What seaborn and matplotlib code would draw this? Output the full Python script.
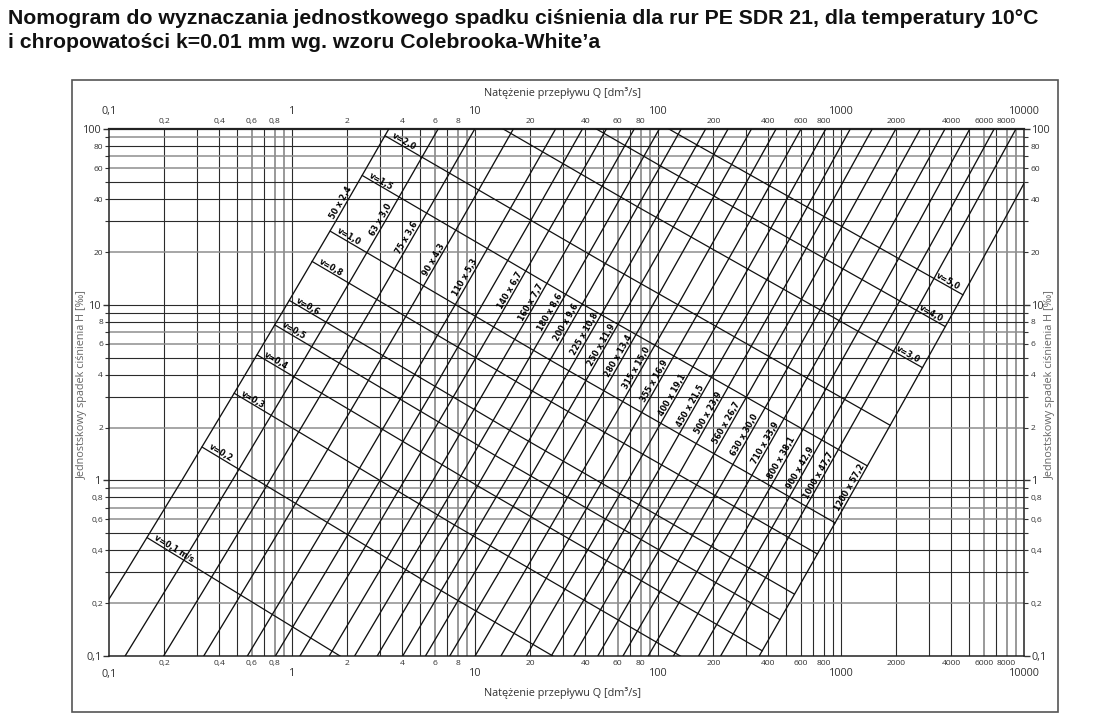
import numpy as np
import pandas as pd
import seaborn as sns
import matplotlib.pyplot as plt
from matplotlib.patches import Rectangle
from matplotlib.ticker import FixedLocator, FuncFormatter

h_levels = [0.1, 0.3, 1, 3, 10, 30, 100]

pipe_dn = [50, 63, 75, 90, 110, 125, 140, 160, 180, 200, 225, 250, 280, 315, 355,
           400, 450, 500, 560, 630, 710, 800, 900, 1000, 1200]
pipe_text = ["50 x 2,4", "63 x 3,0", "75 x 3,6", "90 x 4,3", "110 x 5,3", "", "140 x 6,7",
             "160 x 7,7", "180 x 8,6", "200 x 9,6", "225 x 10,8", "250 x 11,9", "280 x 13,4",
             "315 x 15,0", "355 x 16,9", "400 x 19,1", "450 x 21,5", "500 x 23,9", "560 x 26,7",
             "630 x 30,0", "710 x 33,9", "800 x 38,1", "900 x 42,9", "1000 x 47,7", "1200 x 57,2"]

# Q [dm3/s] where each pipe curve crosses the H level
q_at_h0_1 = [0.0638, 0.122, 0.198, 0.328, 0.568, 0.808, 1.10, 1.59, 2.19, 2.91, 4.01, 5.34, 7.25,
             9.97, 13.8, 19.0, 26.0, 34.5, 46.7, 64.1, 88.1, 121, 166, 219, 356]
q_at_h0_3 = [0.123, 0.233, 0.376, 0.621, 1.07, 1.52, 2.07, 2.97, 4.09, 5.43, 7.46, 9.94, 13.5,
             18.5, 25.5, 35.0, 48.0, 63.5, 86.0, 118, 162, 222, 304, 401, 650]
q_at_h1 = [0.249, 0.470, 0.754, 1.24, 2.13, 3.02, 4.10, 5.87, 8.07, 10.7, 14.7, 19.5, 26.3,
           36.1, 49.7, 68.2, 93.3, 124, 167, 228, 313, 430, 586, 774, 1252]
q_at_h3 = [0.469, 0.882, 1.41, 2.31, 3.96, 5.60, 7.59, 10.8, 14.9, 19.7, 27.0, 35.8, 48.4,
           66.2, 91.0, 125, 170, 225, 304, 415, 569, 780, 1063, 1402, 2265]
q_at_h10 = [0.931, 1.74, 2.78, 4.54, 7.76, 10.9, 14.8, 21.1, 28.9, 38.2, 52.3, 69.3, 93.4,
            128, 175, 240, 328, 432, 583, 795, 1088, 1489, 2028, 2673, 4310]
q_at_h30 = [1.73, 3.22, 5.12, 8.35, 14.2, 20.0, 27.0, 38.5, 52.7, 69.6, 95.0, 126, 169,
            231, 317, 433, 591, 779, 1049, 1429, 1953, 2671, 3633, 4783, 7700]
q_at_h100 = [3.36, 6.25, 9.91, 16.1, 27.4, 38.4, 51.9, 73.7, 101, 133, 181, 240, 322,
             439, 601, 821, 1117, 1472, 1981, 2695, 3678, 5024, 6827, 8980, 14430]

# where along each pipe curve its name is written (H, ‰)
pipe_label_h = [37.1, 29.7, 23.4, 17.6, 13.9, None, 11.8, 10.0, 8.76, 7.68, 6.65, 5.76, 4.99,
                4.26, 3.59, 2.99, 2.59, 2.36, 2.07, 1.77, 1.59, 1.31, 1.15, 1.03, 0.883]

# velocity lines: points on the 50, 200 and 1200 pipes
v_text = ["v=0,1 m/s", "v=0,2", "v=0,3", "v=0,4", "v=0,5", "v=0,6", "v=0,8", "v=1,0",
          "v=1,5", "v=2,0", "v=3,0", "v=4,0", "v=5,0"]
q_v_dn50 = [0.161, 0.321, 0.481, 0.642, 0.802, 0.963, 1.28, 1.61, 2.41, 3.21, 4.81, 6.42, 8.02]
h_v_dn50 = [0.472, 1.55, 3.14, 5.19, 7.69, 10.6, 17.7, 26.3, 54.6, 91.9, 193, 327, 495]
q_v_dn200 = [2.57, 5.14, 7.70, 10.3, 12.8, 15.4, 20.5, 25.7, 38.5, 51.4, 77.0, 103, 128]
h_v_dn200 = [0.0803, 0.272, 0.557, 0.931, 1.39, 1.93, 3.23, 4.84, 10.1, 17.2, 36.2, 61.8, 93.8]
q_v_dn1200 = [92.6, 185, 278, 370, 463, 555, 741, 926, 1388, 1851, 2777, 3702, 4628]
h_v_dn1200 = [0.0088, 0.0306, 0.0637, 0.107, 0.161, 0.225, 0.381, 0.573, 1.21, 2.06, 4.39, 7.52, 11.4]

sns.set_style("white")
plt.rcParams["font.family"] = ["Open Sans", "DejaVu Sans"]

fig = plt.figure(figsize=(10.98, 7.25), dpi=100)
W, Hpx = 1098, 725
ax = fig.add_axes([109.3 / W, 1 - 656 / Hpx, 915 / W, 526.7 / Hpx])
ax.set_xscale("log")
ax.set_yscale("log")
ax.set_xlim(0.1, 10000)
ax.set_ylim(0.1, 100)

# grid
x_minor = [m * 10.0 ** e for e in range(-1, 4) for m in range(2, 10)]
y_minor = [m * 10.0 ** e for e in range(-1, 2) for m in range(2, 10)]
for e in range(-1, 4):
    for m in range(1, 10):
        q = m * 10.0 ** e
        if 0.1 < q < 10000:
            light = m in (6, 8, 9) and e != 2
            ax.axvline(q, color="#7d7d7d" if light else "#2b2b2b", lw=1.1 if light else 0.8, zorder=1)
for e in range(-1, 2):
    for m in range(1, 10):
        h = m * 10.0 ** e
        if 0.1 < h < 100:
            light = m in (2, 6, 7) or (m == 9 and e != 0)
            ax.axhline(h, color="#8e8e8e" if light else "#2b2b2b", lw=1.1 if light else 0.8, zorder=1)

# pipe curves
rows = []
cols = [q_at_h0_1, q_at_h0_3, q_at_h1, q_at_h3, q_at_h10, q_at_h30, q_at_h100]
for i, dn in enumerate(pipe_dn):
    for j, h in enumerate(h_levels):
        rows.append({"dn": dn, "Q": cols[j][i], "H": h})
pipes_df = pd.DataFrame(rows)
sns.lineplot(data=pipes_df, x="Q", y="H", units="dn", estimator=None, sort=False,
             color="#111111", lw=0.95, ax=ax, legend=False, zorder=3)

# velocity lines
vrows = []
for i, t in enumerate(v_text):
    for q, h in [(q_v_dn50[i], h_v_dn50[i]), (q_v_dn200[i], h_v_dn200[i]), (q_v_dn1200[i], h_v_dn1200[i])]:
        vrows.append({"v": i, "Q": q, "H": h})
vel_df = pd.DataFrame(vrows)
sns.lineplot(data=vel_df, x="Q", y="H", units="v", estimator=None, sort=False,
             color="#111111", lw=0.9, ax=ax, legend=False, zorder=3)
ax.set_xlim(0.1, 10000)
ax.set_ylim(0.1, 100)


def angle(p0, p1):
    a = ax.transData.transform(p0)
    b = ax.transData.transform(p1)
    return np.degrees(np.arctan2(b[1] - a[1], b[0] - a[0]))


lab_font = dict(family=["Liberation Sans Narrow", "DejaVu Sans"], weight="bold",
                fontstretch="condensed", fontsize=6.4, color="#000000")
lh = np.log10(h_levels)
for i, t in enumerate(pipe_text):
    if not t:
        continue
    qrow = np.log10([c[i] for c in cols])
    hl = pipe_label_h[i]
    q = 10 ** np.interp(np.log10(hl), lh, qrow)
    q2 = 10 ** np.interp(np.log10(hl) + 0.2, lh, qrow)
    rot = angle((q, hl), (q2, hl * 10 ** 0.2))
    ax.text(q, hl, t, rotation=rot, rotation_mode="anchor", ha="center", va="bottom",
            zorder=5, **lab_font)

for i, t in enumerate(v_text):
    qs = np.log10([q_v_dn50[i], q_v_dn200[i], q_v_dn1200[i]])
    hs = np.log10([h_v_dn50[i], h_v_dn200[i], h_v_dn1200[i]])
    if i < 10:
        lq = qs[0] + 0.03
        ha = "left"
        lq2 = lq + 0.2
    else:
        lq = qs[2] - 0.03
        ha = "right"
        lq2 = lq - 0.2
    lhh = np.interp(lq, qs, hs)
    lhh2 = np.interp(lq2, qs, hs)
    p0, p1 = (10 ** lq, 10 ** lhh), (10 ** lq2, 10 ** lhh2)
    rot = angle(p0, p1) if ha == "left" else angle(p1, p0)
    ax.text(p0[0], p0[1], t, rotation=rot, rotation_mode="anchor", ha=ha, va="bottom",
            zorder=5, **lab_font)


# ticks
def fmt_major(v, pos):
    return f"{v:g}".replace(".", ",")


def fmt_minor(v, pos):
    s = f"{v:.1e}"
    if s[0] in "2468":
        return f"{v:g}".replace(".", ",")
    return ""


ax.xaxis.set_major_locator(FixedLocator([0.1, 1, 10, 100, 1000, 10000]))
ax.xaxis.set_minor_locator(FixedLocator(x_minor))
ax.yaxis.set_major_locator(FixedLocator([0.1, 1, 10, 100]))
ax.yaxis.set_minor_locator(FixedLocator(y_minor))
for a in (ax.xaxis, ax.yaxis):
    a.set_major_formatter(FuncFormatter(fmt_major))
    a.set_minor_formatter(FuncFormatter(fmt_minor))

ax.tick_params(axis="x", which="both", top=True, labeltop=True, bottom=True, labelbottom=True,
               length=0, colors="#333333")
ax.tick_params(axis="x", which="major", labelsize=7.8, pad=9)
ax.tick_params(axis="x", which="minor", labelsize=6.1, pad=3)
ax.tick_params(axis="y", which="both", left=True, right=True, labelleft=True, labelright=True,
               direction="out", colors="#333333")
ax.tick_params(axis="y", which="major", labelsize=7.8, length=4, pad=1.5, width=1.0)
ax.tick_params(axis="y", which="minor", labelsize=6.0, length=3, pad=1.5, width=0.8)

for s in ax.spines.values():
    s.set_color("#222222")
    s.set_linewidth(1.1)
ax.spines["top"].set_linewidth(1.6)
ax.set_xlabel("")
ax.set_ylabel("")

# axis titles
xl = "Natężenie przepływu Q [dm³/s]"
yl = "Jednostskowy spadek ciśnienia H [‰]"
fig.text(562 / W, 1 - 93 / Hpx, xl, ha="center", va="center", fontsize=7.8, color="#333333")
fig.text(562 / W, 1 - 693 / Hpx, xl, ha="center", va="center", fontsize=7.8, color="#333333")
fig.text(82 / W, 1 - 385 / Hpx, yl, ha="center", va="center", rotation=90, fontsize=7.8, color="#666666")
fig.text(1050 / W, 1 - 385 / Hpx, yl, ha="center", va="center", rotation=90, fontsize=7.8, color="#666666")

# frame and title
fig.patches.append(Rectangle((72 / W, 1 - 712 / Hpx), 986 / W, 632 / Hpx, transform=fig.transFigure,
                             fill=False, ec="#555555", lw=1.2))
title_font = dict(family=["Liberation Sans", "DejaVu Sans"], weight="bold", fontsize=15.35, color="#111111")
fig.text(8 / W, 1 - 19 / Hpx, "Nomogram do wyznaczania jednostkowego spadku ciśnienia dla rur PE SDR 21, dla temperatury 10°C",
         ha="left", va="center", **title_font)
fig.text(8 / W, 1 - 43 / Hpx, "i chropowatości k=0.01 mm wg. wzoru Colebrooka-White’a",
         ha="left", va="center", **title_font)

fig.savefig("out.png", dpi=100)
